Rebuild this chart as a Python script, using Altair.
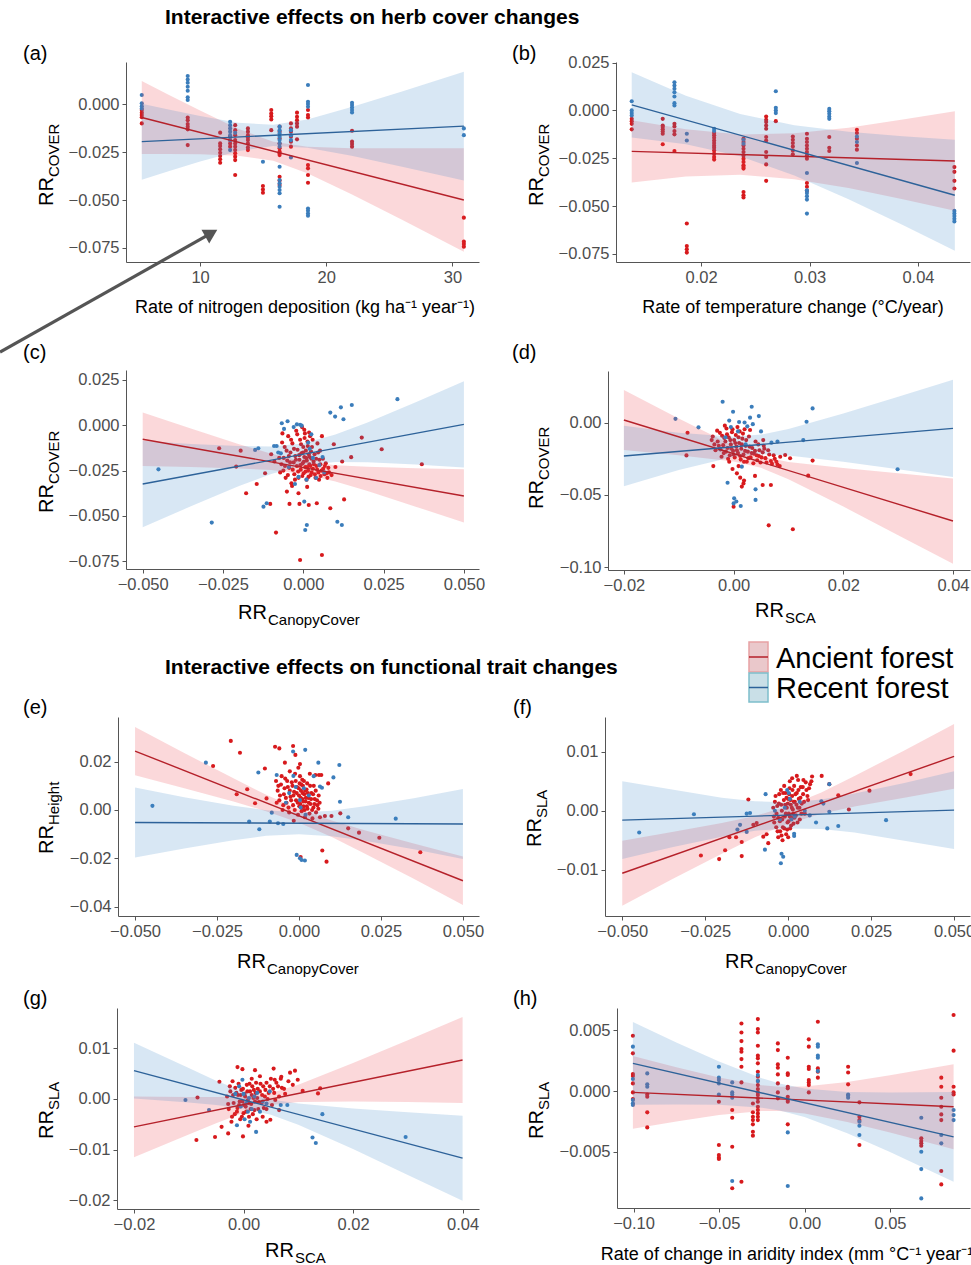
import altair as alt
import pandas as pd

# ---------------------------------------------------------------- canvas
W, H = 971, 1265
FONT = "Liberation Sans"

ANCIENT, RECENT = "Ancient forest", "Recent forest"
GROUPS = [ANCIENT, RECENT]
PT_COLOR = {ANCIENT: "#D7191C", RECENT: "#3B7DBB"}
LINE_COLOR = {ANCIENT: "#B5212A", RECENT: "#2D6299"}
BAND_COLOR = {ANCIENT: "#EC3A44", RECENT: "#3E85C6"}

# ---------------------------------------------------------------- (a) nitrogen deposition
A_RED_COLS = [
    (5.38, [-0.0031, -0.0045, -0.0057, -0.0069, -0.0101]),
    (9.02, [-0.0070, -0.0084, -0.0104, -0.0118, -0.0132, -0.0214]),
    (11.59, [-0.0149, -0.0205, -0.0219, -0.0236, -0.0254, -0.0271, -0.0288, -0.0306]),
    (12.38, [-0.0170, -0.0188, -0.0205, -0.0222]),
    (12.78, [-0.0110, -0.0136, -0.0162, -0.0188, -0.0205, -0.0222, -0.0240, -0.0257, -0.0274, -0.0292, -0.0370]),
    (13.79, [-0.0127, -0.0144, -0.0162, -0.0174, -0.0188, -0.0205, -0.0226, -0.0240]),
    (14.98, [-0.0427, -0.0445, -0.0462]),
    (15.64, [-0.0031, -0.0049, -0.0063, -0.0080, -0.0136]),
    (16.30, [-0.0118, -0.0144, -0.0179, -0.0205, -0.0231, -0.0248, -0.0257, -0.0266, -0.0379, -0.0399, -0.0422]),
    (17.20, [-0.0101, -0.0127, -0.0144, -0.0170, -0.0196, -0.0222]),
    (17.68, [-0.0045, -0.0066, -0.0084, -0.0101, -0.0118, -0.0184]),
    (18.55, [-0.0031, -0.0057, -0.0070, -0.0318, -0.0335, -0.0370, -0.0410]),
    (22.04, [-0.0139, -0.0196, -0.0208, -0.0222]),
    (30.90, [-0.0592, -0.0717, -0.0729, -0.0743]),
]
A_BLUE_COLS = [
    (5.38, [0.0047, 0.0004, -0.0011, -0.0023]),
    (9.02, [0.0146, 0.0128, 0.0111, 0.0090, 0.0069, 0.0035, 0.0021]),
    (12.38, [-0.0092, -0.0110, -0.0127, -0.0144, -0.0162, -0.0188, -0.0240]),
    (12.78, [-0.0150]),
    (14.98, [-0.0301]),
    (16.30, [-0.0118, -0.0136, -0.0153, -0.0170, -0.0188, -0.0205, -0.0222, -0.0327,
             -0.0396, -0.0413, -0.0431, -0.0448, -0.0465, -0.0535]),
    (17.20, [-0.0136, -0.0162, -0.0188, -0.0278]),
    (18.55, [0.0099, 0.0012, 0.0000, -0.0014, -0.0544, -0.0556, -0.0570, -0.0582]),
    (22.04, [0.0007, -0.0005, -0.0018, -0.0031, -0.0044]),
    (30.90, [-0.0127, -0.0162]),
]
A_BAND_X = [5.38, 7.5, 10, 13, 15.8, 18.5, 22, 26, 30.9]
A_RED_LO = [-0.0260, -0.0260, -0.0262, -0.0269, -0.0296, -0.0360, -0.0470, -0.0603, -0.0770]
A_RED_HI = [0.0120, 0.0048, -0.0034, -0.0129, -0.0196, -0.0222, -0.0230, -0.0231, -0.0230]
A_BLUE_LO = [-0.0394, -0.0350, -0.0300, -0.0246, -0.0218, -0.0228, -0.0270, -0.0327, -0.0398]
A_BLUE_HI = [0.0002, -0.0028, -0.0062, -0.0098, -0.0108, -0.0080, -0.0016, 0.0065, 0.0168]
A_LINE_X = [5.38, 30.9]
A_RED_LINE = [-0.0070, -0.0500]
A_BLUE_LINE = [-0.0196, -0.0115]

# ---------------------------------------------------------------- (b) temperature change
B_RED_COLS = [
    (0.0136, [-0.0044, -0.0056, -0.0070, -0.0099]),
    (0.01646, [-0.0044, -0.0079, -0.0087, -0.0099, -0.0110, -0.0122, -0.0177]),
    (0.01754, [-0.0070, -0.0084, -0.0108, -0.0125, -0.0212]),
    (0.01868, [-0.0591, -0.0709, -0.0726, -0.0743]),
    (0.0212, [-0.0118, -0.0130, -0.0143, -0.0157, -0.0170, -0.0184, -0.0195, -0.0209, -0.0226, -0.0243, -0.0257]),
    (0.02391, [-0.0148, -0.0165, -0.0183, -0.0200, -0.0217, -0.0235, -0.0252, -0.0269, -0.0287,
               -0.0295, -0.0304, -0.0426, -0.0443, -0.0455]),
    (0.0260, [-0.0032, -0.0049, -0.0061, -0.0079, -0.0096, -0.0139, -0.0157, -0.0217, -0.0243, -0.0282, -0.0368]),
    (0.02689, [-0.0056]),
    (0.02846, [-0.0136, -0.0153, -0.0170, -0.0188, -0.0209, -0.0229]),
    (0.02976, [-0.0122, -0.0148, -0.0165, -0.0183, -0.0200, -0.0217, -0.0235, -0.0252, -0.0379, -0.0399, -0.0420]),
    (0.03182, [-0.0139, -0.0195, -0.0212]),
    (0.03437, [-0.0101, -0.0118, -0.0148, -0.0183, -0.0205]),
    (0.04336, [-0.0296, -0.0321, -0.0368, -0.0408]),
]
B_BLUE_COLS = [
    (0.0136, [0.0048, 0.0000, -0.0014, -0.0026]),
    (0.01754, [0.0147, 0.0130, 0.0113, 0.0095, 0.0073, 0.0038, 0.0026]),
    (0.01868, [-0.0122, -0.0157]),
    (0.0212, [-0.0096, -0.0108]),
    (0.02391, [-0.0153, -0.0174]),
    (0.02689, [0.0100, 0.0014, 0.0000, -0.0014]),
    (0.02976, [-0.0327, -0.0417, -0.0431, -0.0448, -0.0466, -0.0539]),
    (0.03182, [0.0008, -0.0004, -0.0018, -0.0032, -0.0044]),
    (0.03437, [-0.0136, -0.0165, -0.0275]),
    (0.04336, [-0.0525, -0.0539, -0.0552, -0.0566, -0.0580]),
]
B_BAND_X = [0.0136, 0.0186, 0.0236, 0.0286, 0.0336, 0.0386, 0.0434]
B_RED_LO = [-0.0377, -0.0345, -0.0336, -0.0359, -0.0406, -0.0464, -0.0524]
B_RED_HI = [-0.0051, -0.0099, -0.0126, -0.0119, -0.0090, -0.0048, -0.0004]
B_BLUE_LO = [-0.0141, -0.0177, -0.0239, -0.0340, -0.0464, -0.0599, -0.0733]
B_BLUE_HI = [0.0199, 0.0077, -0.0019, -0.0078, -0.0112, -0.0135, -0.0153]
B_LINE_X = [0.0136, 0.0434]
B_RED_LINE = [-0.0214, -0.0264]
B_BLUE_LINE = [0.0029, -0.0443]

# ---------------------------------------------------------------- (c) canopy cover vs cover
C_RED_PTS = [
    (-0.0262, -0.0127), (-0.0195, -0.0140), (-0.0209, -0.0228), (-0.0178, -0.0375), (-0.0145, -0.0324),
    (-0.0119, -0.0265), (-0.0103, -0.0434), (-0.0085, -0.0592), (-0.0010, -0.0743), (0.0058, -0.0716),
    (-0.0043, -0.0434), (-0.0012, -0.0434), (0.0017, -0.0440), (0.0042, -0.0430), (0.0084, -0.0458),
    (0.0127, -0.0409), (0.0182, -0.0068), (0.0149, -0.0176), (0.0121, -0.0200), (0.0244, -0.0132),
    (0.0369, -0.0215), (-0.0051, -0.0366), (-0.0015, -0.0375),
    (-0.0075, -0.0180), (-0.0068, -0.0215), (-0.0062, -0.0250), (-0.0058, -0.0120), (-0.0055, -0.0290),
    (-0.0050, -0.0195), (-0.0047, -0.0060), (-0.0044, -0.0235), (-0.0040, -0.0150), (-0.0037, -0.0320),
    (-0.0034, -0.0100), (-0.0030, -0.0205), (-0.0028, -0.0270), (-0.0025, -0.0170), (-0.0022, -0.0030),
    (-0.0020, -0.0225), (-0.0018, -0.0135), (-0.0015, -0.0290), (-0.0012, -0.0190), (-0.0010, -0.0080),
    (-0.0008, -0.0245), (-0.0006, -0.0155), (-0.0004, -0.0010), (-0.0002, -0.0210), (0.0000, -0.0120),
    (0.0001, -0.0265), (0.0003, -0.0175), (0.0005, -0.0045), (0.0006, -0.0230), (0.0008, -0.0140),
    (0.0010, -0.0300), (0.0011, -0.0195), (0.0013, -0.0090), (0.0015, -0.0250), (0.0017, -0.0160),
    (0.0019, -0.0215), (0.0021, -0.0060), (0.0023, -0.0275), (0.0025, -0.0185), (0.0027, -0.0120),
    (0.0030, -0.0240), (0.0032, -0.0200), (0.0035, -0.0160), (0.0038, -0.0290), (0.0041, -0.0225),
    (0.0044, -0.0100), (0.0047, -0.0260), (0.0050, -0.0190), (0.0054, -0.0280), (0.0058, -0.0060),
    (0.0062, -0.0240), (0.0066, -0.0270), (0.0070, -0.0210), (0.0075, -0.0290), (0.0080, -0.0260),
    (0.0088, -0.0275), (0.0095, -0.0105), (0.0100, -0.0230), (-0.0090, -0.0200), (-0.0100, -0.0160),
    (-0.0035, -0.0335), (0.0012, -0.0340), (-0.0065, -0.0045), (0.0003, -0.0025), (0.0052, -0.0140),
    (-0.0072, -0.0260), (-0.0066, -0.0095), (-0.0061, -0.0180), (-0.0057, -0.0225), (-0.0052, -0.0140),
    (-0.0048, -0.0275), (-0.0045, -0.0170), (-0.0041, -0.0205), (-0.0038, -0.0080), (-0.0033, -0.0245),
    (-0.0029, -0.0130), (-0.0026, -0.0300), (-0.0023, -0.0190), (-0.0019, -0.0050), (-0.0016, -0.0255),
    (-0.0013, -0.0165), (-0.0009, -0.0220), (-0.0007, -0.0105), (-0.0003, -0.0280), (-0.0001, -0.0150),
    (0.0002, -0.0200), (0.0004, -0.0070), (0.0007, -0.0255), (0.0009, -0.0180), (0.0012, -0.0230),
    (0.0014, -0.0115), (0.0016, -0.0285), (0.0018, -0.0040), (0.0020, -0.0175), (0.0022, -0.0225),
    (0.0024, -0.0145), (0.0026, -0.0260), (0.0029, -0.0080), (0.0033, -0.0215), (0.0036, -0.0270),
    (0.0040, -0.0185), (0.0043, -0.0245), (0.0046, -0.0150), (0.0049, -0.0300), (0.0053, -0.0215),
    (0.0057, -0.0250), (0.0061, -0.0185), (0.0067, -0.0225), (0.0072, -0.0265), (0.0078, -0.0235),
]
C_BLUE_PTS = [
    (-0.0451, -0.0243), (-0.0285, -0.0537), (0.0293, 0.0144), (0.0084, 0.0070), (0.0117, 0.0099),
    (0.0099, 0.0048), (0.0125, 0.0033), (0.0151, 0.0112), (0.0106, -0.0532), (0.0120, -0.0550),
    (-0.0124, -0.0449), (-0.0114, -0.0430), (0.0006, -0.0578), (0.0011, -0.0550), (0.0003, -0.0421),
    (-0.0140, -0.0127), (-0.0150, -0.0136), (-0.0091, -0.0114), (-0.0083, -0.0114), (-0.0067, 0.0011),
    (-0.0049, 0.0022), (-0.0020, 0.0005), (-0.0010, 0.0003), (-0.0005, -0.0002), (-0.0026, -0.0324),
    (0.0010, -0.0300), (0.0040, -0.0290), (0.0060, -0.0175), (-0.0070, -0.0155), (0.0020, -0.0130),
    (-0.0078, -0.0150), (-0.0060, -0.0020), (-0.0045, -0.0230), (-0.0030, -0.0010), (0.0015, -0.0095),
    (0.0030, -0.0180), (0.0050, -0.0220), (0.0065, -0.0260), (-0.0015, -0.0285), (0.0025, -0.0050),
]
C_BAND_X = [-0.05, -0.035, -0.02, -0.01, 0.0, 0.01, 0.02, 0.035, 0.05]
C_RED_LO = [-0.0224, -0.0230, -0.0238, -0.0247, -0.0269, -0.0310, -0.0363, -0.0449, -0.0537]
C_RED_HI = [0.0070, -0.0018, -0.0104, -0.0157, -0.0199, -0.0220, -0.0229, -0.0237, -0.0243]
C_BLUE_LO = [-0.0562, -0.0447, -0.0335, -0.0269, -0.0220, -0.0203, -0.0204, -0.0217, -0.0233]
C_BLUE_HI = [-0.0086, -0.0103, -0.0115, -0.0117, -0.0100, -0.0051, 0.0016, 0.0127, 0.0243]
C_LINE_X = [-0.05, 0.05]
C_RED_LINE = [-0.0077, -0.0390]
C_BLUE_LINE = [-0.0324, 0.0005]

# ---------------------------------------------------------------- (d) SCA vs cover
D_RED_PTS = [
    (-0.0084, -0.0069), (-0.0086, -0.0226), (-0.0037, -0.0300), (0.0064, -0.0710), (0.0108, -0.0737),
    (0.0144, -0.0262), (0.0136, -0.0366), (0.0068, -0.0431), (0.0053, -0.0431), (0.0039, -0.0368),
    (0.0000, -0.0581), (0.0015, -0.0442), (0.0018, -0.0420), (0.0103, -0.0246), (0.0094, -0.0223),
    (0.0085, -0.0235), (0.0054, -0.0120), (0.0056, -0.0180), (0.0046, -0.0230),
    (-0.0040, -0.0120), (-0.0035, -0.0150), (-0.0030, -0.0055), (-0.0027, -0.0160), (-0.0024, -0.0185),
    (-0.0021, -0.0090), (-0.0018, -0.0210), (-0.0015, -0.0130), (-0.0013, -0.0040), (-0.0011, -0.0175),
    (-0.0009, -0.0100), (-0.0007, -0.0225), (-0.0005, -0.0150), (-0.0003, -0.0065), (-0.0001, -0.0195),
    (0.0001, -0.0120), (0.0002, -0.0240), (0.0004, -0.0085), (0.0005, -0.0165), (0.0007, -0.0030),
    (0.0008, -0.0210), (0.0010, -0.0140), (0.0011, -0.0060), (0.0013, -0.0255), (0.0014, -0.0180),
    (0.0016, -0.0110), (0.0018, -0.0220), (0.0020, -0.0045), (0.0022, -0.0160), (0.0024, -0.0270),
    (0.0026, -0.0200), (0.0028, -0.0095), (0.0031, -0.0240), (0.0034, -0.0175), (0.0037, -0.0215),
    (0.0040, -0.0130), (0.0043, -0.0260), (0.0047, -0.0190), (0.0051, -0.0240), (0.0055, -0.0160),
    (0.0060, -0.0275), (0.0065, -0.0220), (0.0070, -0.0285), (0.0075, -0.0250), (0.0080, -0.0290),
    (-0.0008, -0.0270), (0.0009, -0.0300), (0.0006, -0.0350), (0.0012, -0.0380), (-0.0002, -0.0320),
    (0.0019, -0.0400), (0.0030, -0.0050), (-0.0016, -0.0020),
    (-0.0038, -0.0095), (-0.0033, -0.0190), (-0.0029, -0.0130), (-0.0025, -0.0070), (-0.0022, -0.0235),
    (-0.0019, -0.0155), (-0.0017, -0.0105), (-0.0014, -0.0200), (-0.0012, -0.0080), (-0.0010, -0.0250),
    (-0.0006, -0.0120), (-0.0004, -0.0180), (-0.0002, -0.0045), (0.0000, -0.0220), (0.0003, -0.0140),
    (0.0006, -0.0190), (0.0009, -0.0100), (0.0012, -0.0230), (0.0015, -0.0150), (0.0017, -0.0075),
    (0.0019, -0.0270), (0.0021, -0.0195), (0.0023, -0.0120), (0.0027, -0.0245), (0.0029, -0.0165),
    (0.0033, -0.0210), (0.0036, -0.0280), (0.0039, -0.0195), (0.0042, -0.0225), (0.0045, -0.0150),
    (0.0049, -0.0275), (0.0053, -0.0205), (0.0058, -0.0245), (0.0063, -0.0190), (0.0068, -0.0265),
    (0.0073, -0.0225), (0.0078, -0.0270), (0.0084, -0.0300),
]
D_BLUE_PTS = [
    (-0.0106, 0.0027), (-0.0064, -0.0032), (-0.0020, 0.0145), (-0.0001, 0.0076), (0.0033, 0.0111),
    (0.0046, 0.0046), (0.0133, 0.0007), (0.0144, 0.0099), (0.0299, -0.0322), (0.0127, -0.0120),
    (-0.0011, -0.0415), (0.0040, -0.0461), (0.0040, -0.0534), (0.0000, -0.0558), (0.0005, -0.0545),
    (0.0013, -0.0576), (0.0001, -0.0523), (0.0015, -0.0304), (0.0069, -0.0138), (0.0080, -0.0130),
    (0.0010, 0.0005), (0.0020, 0.0002), (-0.0005, -0.0030), (0.0025, -0.0025), (0.0035, -0.0010),
    (-0.0015, -0.0100), (-0.0025, -0.0180), (0.0008, -0.0060), (0.0022, -0.0150), (0.0050, -0.0060),
    (-0.0008, 0.0015), (0.0030, 0.0035),
]
D_BAND_X = [-0.02, -0.01, 0.0, 0.005, 0.01, 0.02, 0.03, 0.04]
D_RED_LO = [-0.0188, -0.0225, -0.0269, -0.0312, -0.0391, -0.0580, -0.0778, -0.0975]
D_RED_HI = [0.0226, 0.0029, -0.0159, -0.0232, -0.0271, -0.0314, -0.0350, -0.0385]
D_BLUE_LO = [-0.0440, -0.0327, -0.0235, -0.0218, -0.0227, -0.0270, -0.0322, -0.0376]
D_BLUE_HI = [-0.0020, -0.0069, -0.0097, -0.0082, -0.0043, 0.0064, 0.0180, 0.0298]
D_LINE_X = [-0.02, 0.04]
D_RED_LINE = [0.0019, -0.0680]
D_BLUE_LINE = [-0.0230, -0.0039]

# ---------------------------------------------------------------- (e) canopy cover vs height
E_RED_PTS = [
    (-0.0208, 0.0286), (-0.0180, 0.0237), (-0.0262, 0.0182), (-0.0190, 0.0065), (-0.0158, 0.0086),
    (-0.0134, 0.0028), (-0.0099, 0.0048), (-0.0104, 0.0172), (-0.0073, 0.0262), (-0.0060, 0.0255),
    (-0.0018, 0.0265), (-0.0011, 0.0228), (-0.0043, 0.0196), (0.0061, 0.0145), (0.0050, 0.0145),
    (0.0068, 0.0145), (0.0089, 0.0110), (0.0079, -0.0025), (0.0099, -0.0025), (0.0126, -0.0014),
    (0.0150, -0.0076), (0.0183, -0.0094), (0.0245, -0.0115), (0.0370, -0.0175), (0.0071, -0.0168),
    (0.0084, -0.0214), (0.0005, -0.0195),
    (-0.0070, 0.0120), (-0.0065, 0.0080), (-0.0060, 0.0040), (-0.0055, 0.0105), (-0.0050, 0.0000),
    (-0.0046, 0.0065), (-0.0042, 0.0130), (-0.0038, 0.0030), (-0.0034, 0.0095), (-0.0030, -0.0010),
    (-0.0026, 0.0055), (-0.0022, 0.0115), (-0.0018, 0.0020), (-0.0015, 0.0075), (-0.0012, 0.0150),
    (-0.0009, 0.0040), (-0.0006, 0.0095), (-0.0003, -0.0020), (0.0000, 0.0060), (0.0002, 0.0110),
    (0.0004, 0.0025), (0.0006, 0.0080), (0.0008, -0.0005), (0.0010, 0.0045), (0.0012, 0.0100),
    (0.0014, 0.0015), (0.0016, 0.0065), (0.0018, -0.0030), (0.0020, 0.0035), (0.0023, 0.0085),
    (0.0026, 0.0005), (0.0029, 0.0050), (0.0032, -0.0015), (0.0035, 0.0025), (0.0038, 0.0070),
    (0.0041, -0.0035), (0.0044, 0.0010), (0.0048, 0.0045), (0.0052, -0.0010), (0.0056, 0.0020),
    (0.0060, 0.0060), (0.0064, -0.0030), (0.0010, 0.0125), (-0.0002, 0.0175), (0.0003, 0.0190),
    (0.0025, 0.0110), (-0.0028, 0.0160), (0.0045, 0.0100), (0.0033, 0.0150), (-0.0016, -0.0045),
    (-0.0068, 0.0030), (-0.0063, 0.0100), (-0.0058, 0.0060), (-0.0053, 0.0140), (-0.0048, 0.0020),
    (-0.0044, 0.0090), (-0.0040, 0.0050), (-0.0036, 0.0120), (-0.0032, 0.0010), (-0.0028, 0.0080),
    (-0.0024, 0.0040), (-0.0020, 0.0100), (-0.0017, 0.0060), (-0.0013, 0.0000), (-0.0010, 0.0120),
    (-0.0007, 0.0070), (-0.0004, 0.0030), (-0.0001, 0.0090), (0.0001, 0.0015), (0.0003, 0.0140),
    (0.0005, 0.0050), (0.0007, 0.0105), (0.0009, 0.0010), (0.0011, 0.0070), (0.0013, 0.0035),
    (0.0015, 0.0120), (0.0017, 0.0000), (0.0019, 0.0080), (0.0021, 0.0050), (0.0024, 0.0015),
    (0.0027, 0.0070), (0.0030, 0.0030), (0.0034, 0.0100), (0.0037, 0.0045), (0.0040, 0.0000),
    (0.0043, 0.0065), (0.0047, 0.0025), (0.0051, 0.0080), (0.0055, 0.0040), (0.0059, 0.0005),
    (0.0063, 0.0030),
]
E_BLUE_PTS = [
    (-0.0447, 0.0017), (-0.0284, 0.0196), (-0.0152, -0.0048), (-0.0121, -0.0080), (-0.0089, -0.0048),
    (-0.0064, -0.0055), (-0.0048, -0.0058), (-0.0124, 0.0155), (-0.0068, 0.0145), (-0.0018, 0.0242),
    (0.0019, 0.0249), (0.0059, 0.0196), (0.0123, 0.0186), (0.0105, 0.0135), (0.0064, 0.0097),
    (0.0070, 0.0092), (0.0125, 0.0034), (0.0150, -0.0030), (0.0295, -0.0036), (-0.0007, -0.0186),
    (0.0008, -0.0207), (0.0018, -0.0209), (0.0003, -0.0200), (-0.0083, -0.0011), (-0.0017, 0.0141),
    (0.0003, 0.0041), (-0.0030, 0.0070), (0.0015, 0.0090), (-0.0040, 0.0030), (0.0005, 0.0010),
    (0.0030, 0.0060), (-0.0010, 0.0095), (0.0045, 0.0140), (0.0020, -0.0020),
]
E_BAND_X = [-0.05, -0.035, -0.02, -0.01, 0.0, 0.01, 0.02, 0.035, 0.05]
E_RED_LO = [0.0144, 0.0090, 0.0035, -0.0005, -0.0053, -0.0112, -0.0180, -0.0285, -0.0393]
E_RED_HI = [0.0344, 0.0236, 0.0131, 0.0063, 0.0003, -0.0044, -0.0084, -0.0139, -0.0193]
E_BLUE_LO = [-0.0197, -0.0159, -0.0125, -0.0107, -0.0100, -0.0109, -0.0127, -0.0163, -0.0203]
E_BLUE_HI = [0.0093, 0.0053, 0.0017, -0.0001, -0.0010, -0.0003, 0.0015, 0.0049, 0.0087]
E_LINE_X = [-0.05, 0.05]
E_RED_LINE = [0.0244, -0.0293]
E_BLUE_LINE = [-0.0052, -0.0058]

# ---------------------------------------------------------------- (f) canopy cover vs SLA
F_RED_PTS = [
    (0.0369, 0.0062), (0.0245, 0.0034), (0.0183, 0.0002), (0.0151, 0.0026), (0.0124, 0.0045),
    (0.0101, 0.0059), (0.0072, 0.0058), (0.0026, 0.0059), (0.0046, 0.0052), (-0.0263, -0.0076),
    (-0.0208, -0.0082), (-0.0190, -0.0067), (-0.0177, -0.0045), (-0.0157, -0.0045), (-0.0140, -0.0077),
    (-0.0140, -0.0053), (-0.0105, -0.0024), (-0.0095, -0.0021), (-0.0075, -0.0044), (-0.0065, -0.0040),
    (-0.0060, -0.0055), (-0.0120, 0.0019), (-0.0017, -0.0050), (-0.0020, -0.0042),
    (-0.0045, 0.0005), (-0.0042, -0.0020), (-0.0038, 0.0025), (-0.0035, -0.0005), (-0.0032, -0.0035),
    (-0.0028, 0.0012), (-0.0025, -0.0018), (-0.0022, 0.0035), (-0.0019, 0.0000), (-0.0016, -0.0028),
    (-0.0013, 0.0018), (-0.0010, -0.0010), (-0.0008, 0.0030), (-0.0006, -0.0040), (-0.0004, 0.0005),
    (-0.0002, -0.0020), (0.0000, 0.0020), (0.0002, -0.0005), (0.0004, 0.0038), (0.0006, -0.0030),
    (0.0008, 0.0010), (0.0010, -0.0012), (0.0012, 0.0025), (0.0014, 0.0002), (0.0016, -0.0022),
    (0.0018, 0.0042), (0.0020, 0.0015), (0.0023, -0.0008), (0.0026, 0.0030), (0.0029, 0.0005),
    (0.0032, 0.0020), (0.0035, -0.0015), (0.0038, 0.0040), (0.0041, 0.0012), (0.0045, 0.0028),
    (0.0050, -0.0005), (0.0055, 0.0035), (0.0060, 0.0018), (0.0066, 0.0045), (0.0005, 0.0050),
    (0.0012, 0.0055), (-0.0012, 0.0042), (0.0030, 0.0052), (-0.0030, -0.0045), (0.0000, -0.0045),
    (-0.0043, -0.0010), (-0.0040, 0.0015), (-0.0036, -0.0028), (-0.0033, 0.0008), (-0.0030, -0.0012),
    (-0.0027, 0.0028), (-0.0024, -0.0035), (-0.0021, 0.0010), (-0.0018, -0.0015), (-0.0015, 0.0030),
    (-0.0012, -0.0030), (-0.0009, 0.0010), (-0.0007, -0.0005), (-0.0005, 0.0022), (-0.0003, -0.0032),
    (-0.0001, 0.0012), (0.0001, -0.0018), (0.0003, 0.0028), (0.0005, -0.0010), (0.0007, 0.0018),
    (0.0009, -0.0025), (0.0011, 0.0005), (0.0013, 0.0035), (0.0015, -0.0005), (0.0017, 0.0015),
    (0.0019, -0.0012), (0.0022, 0.0028), (0.0025, 0.0010), (0.0028, -0.0020), (0.0031, 0.0035),
    (0.0034, 0.0005), (0.0037, 0.0022), (0.0040, -0.0005), (0.0044, 0.0040), (0.0048, 0.0015),
    (0.0053, 0.0048), (0.0058, 0.0025), (0.0063, 0.0038), (0.0070, 0.0050),
]
F_BLUE_PTS = [
    (-0.0449, -0.0037), (-0.0284, -0.0006), (-0.0125, -0.0005), (-0.0115, -0.0004), (-0.0145, -0.0024),
    (-0.0153, -0.0032), (-0.0125, -0.0036), (-0.0068, 0.0028), (-0.0070, -0.0066), (-0.0020, -0.0073),
    (-0.0015, -0.0078), (-0.0022, -0.0089), (0.0018, -0.0039), (0.0018, -0.0043), (0.0084, -0.0020),
    (0.0118, -0.0030), (0.0151, -0.0026), (0.0295, -0.0016), (0.0106, 0.0012), (0.0100, 0.0016),
    (0.0124, -0.0002), (0.0124, 0.0045), (0.0065, -0.0008), (-0.0003, 0.0035), (0.0002, 0.0030),
    (-0.0040, 0.0000), (0.0010, -0.0015), (-0.0010, 0.0005), (0.0005, 0.0020), (0.0020, -0.0010),
    (0.0035, 0.0015), (-0.0025, -0.0015), (0.0050, 0.0000),
]
F_BAND_X = [-0.05, -0.035, -0.02, -0.01, 0.0, 0.01, 0.02, 0.035, 0.05]
F_RED_LO = [-0.0161, -0.0116, -0.0073, -0.0045, -0.0022, -0.0005, 0.0007, 0.0022, 0.0037]
F_RED_HI = [-0.0051, -0.0036, -0.0021, -0.0009, 0.0008, 0.0031, 0.0059, 0.0102, 0.0147]
F_BLUE_LO = [-0.0082, -0.0062, -0.0044, -0.0034, -0.0030, -0.0031, -0.0037, -0.0051, -0.0065]
F_BLUE_HI = [0.0050, 0.0036, 0.0022, 0.0016, 0.0014, 0.0019, 0.0029, 0.0047, 0.0067]
F_LINE_X = [-0.05, 0.05]
F_RED_LINE = [-0.0106, 0.0092]
F_BLUE_LINE = [-0.0016, 0.0001]

# ---------------------------------------------------------------- (g) SCA vs SLA
G_RED_PTS = [
    (-0.0084, 0.0003), (-0.0086, -0.0081), (-0.0052, -0.0075), (-0.0044, 0.0034), (-0.0011, 0.0063),
    (-0.0002, 0.0059), (0.0021, 0.0057), (0.0055, 0.0060), (0.0085, 0.0052), (0.0094, 0.0056),
    (0.0099, 0.0038), (0.0108, 0.0016), (0.0140, 0.0021), (0.0136, 0.0011), (-0.0028, -0.0068),
    (-0.0001, -0.0074), (-0.0040, -0.0055), (0.0009, -0.0053), (0.0042, -0.0045), (0.0049, -0.0041),
    (0.0065, -0.0022), (0.0042, 0.0032), (0.0057, 0.0038), (0.0069, 0.0044),
    (-0.0030, 0.0005), (-0.0027, -0.0020), (-0.0024, 0.0015), (-0.0021, -0.0035), (-0.0018, -0.0008),
    (-0.0015, 0.0022), (-0.0012, -0.0025), (-0.0010, 0.0008), (-0.0008, -0.0012), (-0.0006, -0.0040),
    (-0.0004, 0.0018), (-0.0002, -0.0005), (0.0000, -0.0028), (0.0002, 0.0010), (0.0004, -0.0015),
    (0.0006, 0.0028), (0.0008, -0.0002), (0.0010, -0.0035), (0.0012, 0.0015), (0.0014, -0.0010),
    (0.0016, 0.0025), (0.0018, 0.0002), (0.0020, -0.0022), (0.0022, 0.0012), (0.0024, -0.0040),
    (0.0026, 0.0020), (0.0028, -0.0006), (0.0031, 0.0030), (0.0034, 0.0008), (0.0037, -0.0018),
    (0.0040, 0.0018), (0.0044, 0.0000), (0.0048, 0.0025), (0.0052, -0.0012), (0.0056, 0.0012),
    (0.0060, 0.0032), (0.0065, 0.0005), (0.0070, 0.0022), (0.0076, 0.0010), (0.0082, 0.0035),
    (0.0090, 0.0028), (0.0030, 0.0045), (0.0015, 0.0040), (-0.0020, 0.0035), (0.0035, -0.0035),
    (-0.0028, -0.0010), (-0.0025, 0.0025), (-0.0022, -0.0045), (-0.0019, 0.0008), (-0.0016, -0.0030),
    (-0.0013, 0.0012), (-0.0011, -0.0018), (-0.0009, 0.0030), (-0.0007, -0.0005), (-0.0005, 0.0008),
    (-0.0003, -0.0035), (-0.0001, 0.0020), (0.0001, -0.0012), (0.0003, 0.0005), (0.0005, -0.0025),
    (0.0007, 0.0015), (0.0009, -0.0008), (0.0011, 0.0030), (0.0013, -0.0020), (0.0015, 0.0008),
    (0.0017, -0.0030), (0.0019, 0.0018), (0.0021, -0.0005), (0.0023, 0.0032), (0.0025, 0.0002),
    (0.0027, -0.0020), (0.0030, 0.0015), (0.0033, -0.0008), (0.0036, 0.0025), (0.0039, 0.0005),
    (0.0042, -0.0020), (0.0046, 0.0012), (0.0050, 0.0040), (0.0054, 0.0020), (0.0058, -0.0002),
    (0.0063, 0.0025), (0.0068, 0.0040), (0.0074, 0.0020),
]
G_BLUE_PTS = [
    (-0.0106, -0.0002), (-0.0063, -0.0022), (0.0296, -0.0075), (0.0126, -0.0076), (0.0132, -0.0087),
    (0.0144, -0.0030), (0.0080, -0.0012), (0.0068, -0.0012), (0.0048, 0.0015), (0.0023, -0.0065),
    (-0.0012, -0.0052), (0.0042, -0.0009), (-0.0002, 0.0038), (0.0000, 0.0010), (0.0005, -0.0008),
    (0.0010, 0.0002), (0.0015, -0.0020), (0.0020, 0.0005), (-0.0005, -0.0015), (0.0030, -0.0025),
    (0.0002, -0.0040), (-0.0015, 0.0010), (0.0008, -0.0025), (0.0025, 0.0012), (0.0035, -0.0005),
    (-0.0008, 0.0025), (0.0012, -0.0045),
]
G_BAND_X = [-0.02, -0.01, -0.005, 0.0, 0.005, 0.01, 0.02, 0.03, 0.04]
G_RED_LO = [-0.0115, -0.0070, -0.0048, -0.0027, -0.0012, -0.0006, -0.0005, -0.0006, -0.0008]
G_RED_HI = [0.0005, 0.0004, 0.0004, 0.0005, 0.0012, 0.0028, 0.0071, 0.0116, 0.0162]
G_BLUE_LO = [0.0001, -0.0007, -0.0012, -0.0019, -0.0031, -0.0051, -0.0099, -0.0150, -0.0201]
G_BLUE_HI = [0.0111, 0.0061, 0.0036, 0.0015, -0.0001, -0.0009, -0.0019, -0.0026, -0.0033]
G_LINE_X = [-0.02, 0.04]
G_RED_LINE = [-0.0055, 0.0077]
G_BLUE_LINE = [0.0056, -0.0117]

# ---------------------------------------------------------------- (h) aridity vs SLA
H_RED_COLS = [
    (-0.1004, [0.00455, 0.00310, 0.00140, 0.00123, 0.00063, -0.00011, -0.00066]),
    (-0.0920, [-0.00028, -0.00047, -0.00175, -0.00299]),
    (-0.0501, [-0.00088, -0.00444, -0.00526, -0.00548, -0.00559]),
    (-0.0423, [-0.00156, -0.00220, -0.00458, -0.00800]),
    (-0.0369, [0.00556, 0.00482, 0.00411, 0.00345, 0.00323, 0.00263, 0.00200, 0.00071, -0.00746]),
    (-0.0302, [-0.00102, -0.00175, -0.00211, -0.00239, -0.00274, -0.00335, -0.00367]),
    (-0.0273, [0.00592, 0.00510, 0.00482, 0.00373, 0.00291, 0.00269, 0.00228, 0.00159, 0.00118, 0.00082,
               0.00049, 0.00016, -0.00011, -0.00033, -0.00060, -0.00088, -0.00129, -0.00156, -0.00184,
               -0.00211, -0.00239]),
    (-0.0156, [0.00392, 0.00337, 0.00219, 0.00192, 0.00137, 0.00063, -0.00011, -0.00060]),
    (-0.0098, [0.00274, 0.00145, 0.00132, 0.00035, 0.00022, -0.00047, -0.00074, -0.00088, -0.00274]),
    (0.0025, [0.00425, 0.00365, 0.00200, 0.00181, 0.00090, 0.00071, 0.00049, -0.00011]),
    (0.0078, [0.00570, 0.00186, 0.00159, 0.00110]),
    (0.0255, [0.00200, 0.00153, 0.00055]),
    (0.0321, [-0.00093, -0.00211, -0.00239, -0.00444]),
    (0.0683, [-0.00389, -0.00411, -0.00430, -0.00450]),
    (0.0800, [0.00110, 0.00035, -0.00055, -0.00129, -0.00192, -0.00239, -0.00658, -0.00768]),
    (0.0872, [0.00625, 0.00332, 0.00035, -0.00011, -0.00028]),
]
H_BLUE_COLS = [
    (-0.1004, [0.00365, 0.00099, -0.00074, -0.00101, -0.00115]),
    (-0.0920, [0.00145, 0.00055, 0.00035]),
    (-0.0501, [0.00200, 0.00110, 0.00090, 0.00063, -0.00028]),
    (-0.0423, [0.00071, -0.00011, -0.00028, -0.00055, -0.00740]),
    (-0.0273, [0.00132, 0.00082]),
    (-0.0098, [-0.00340, -0.00781]),
    (0.0078, [0.00384, 0.00365, 0.00291, 0.00274, 0.00164]),
    (0.0255, [-0.00028, -0.00038, -0.00055]),
    (0.0321, [-0.00252, -0.00285, -0.00362]),
    (0.0683, [-0.00220, -0.00499, -0.00642, -0.00883]),
    (0.0800, [-0.00362, -0.00430]),
    (0.0872, [-0.00156, -0.00198, -0.00239]),
]
H_BAND_X = [-0.1004, -0.075, -0.05, -0.025, -0.0146, 0.0, 0.025, 0.05, 0.0872]
H_RED_LO = [-0.00311, -0.00250, -0.00197, -0.00164, -0.00165, -0.00185, -0.00254, -0.00340, -0.00479]
H_RED_HI = [0.00289, 0.00196, 0.00111, 0.00048, 0.00035, 0.00037, 0.00074, 0.00130, 0.00221]
H_BLUE_LO = [-0.00113, -0.00110, -0.00113, -0.00137, -0.00160, -0.00213, -0.00347, -0.00502, -0.00747]
H_BLUE_HI = [0.00567, 0.00400, 0.00243, 0.00105, 0.00062, 0.00021, -0.00007, -0.00012, -0.00007]
H_LINE_X = [-0.1004, 0.0872]
H_RED_LINE = [-0.00011, -0.00129]
H_BLUE_LINE = [0.00227, -0.00377]

# ---------------------------------------------------------------- axes of every panel
PANELS = [
    dict(key="a", box=(126, 479, 62, 262), xdom=[4.13, 32.1], ydom=[-0.0823, 0.0219],
         xticks=[10, 20, 30], xfmt="d", yticks=[0.0, -0.025, -0.05, -0.075], yfmt=".3f",
         red=A_RED_COLS, blue=A_BLUE_COLS, cols=True,
         band=(A_BAND_X, A_RED_LO, A_RED_HI, A_BLUE_LO, A_BLUE_HI),
         line=(A_LINE_X, A_RED_LINE, A_BLUE_LINE)),
    dict(key="b", box=(616, 970, 62, 262), xdom=[0.01215, 0.0448], ydom=[-0.0792, 0.0253],
         xticks=[0.02, 0.03, 0.04], xfmt=".2f", yticks=[0.025, 0.0, -0.025, -0.05, -0.075], yfmt=".3f",
         red=B_RED_COLS, blue=B_BLUE_COLS, cols=True,
         band=(B_BAND_X, B_RED_LO, B_RED_HI, B_BLUE_LO, B_BLUE_HI),
         line=(B_LINE_X, B_RED_LINE, B_BLUE_LINE)),
    dict(key="c", box=(126, 479, 370, 569), xdom=[-0.0552, 0.0547], ydom=[-0.0793, 0.0305],
         xticks=[-0.05, -0.025, 0.0, 0.025, 0.05], xfmt=".3f", yticks=[0.025, 0.0, -0.025, -0.05, -0.075], yfmt=".3f",
         red=C_RED_PTS, blue=C_BLUE_PTS, cols=False,
         band=(C_BAND_X, C_RED_LO, C_RED_HI, C_BLUE_LO, C_BLUE_HI),
         line=(C_LINE_X, C_RED_LINE, C_BLUE_LINE)),
    dict(key="d", box=(608, 970, 371, 570), xdom=[-0.0229, 0.0431], ydom=[-0.1019, 0.0358],
         xticks=[-0.02, 0.0, 0.02, 0.04], xfmt=".2f", yticks=[0.0, -0.05, -0.1], yfmt=".2f",
         red=D_RED_PTS, blue=D_BLUE_PTS, cols=False,
         band=(D_BAND_X, D_RED_LO, D_RED_HI, D_BLUE_LO, D_BLUE_HI),
         line=(D_LINE_X, D_RED_LINE, D_BLUE_LINE)),
    dict(key="e", box=(118, 479, 717, 916), xdom=[-0.0552, 0.0549], ydom=[-0.0439, 0.0385],
         xticks=[-0.05, -0.025, 0.0, 0.025, 0.05], xfmt=".3f", yticks=[0.02, 0.0, -0.02, -0.04], yfmt=".2f",
         red=E_RED_PTS, blue=E_BLUE_PTS, cols=False,
         band=(E_BAND_X, E_RED_LO, E_RED_HI, E_BLUE_LO, E_BLUE_HI),
         line=(E_LINE_X, E_RED_LINE, E_BLUE_LINE)),
    dict(key="f", box=(605, 970, 717, 916), xdom=[-0.0552, 0.0548], ydom=[-0.01785, 0.01588],
         xticks=[-0.05, -0.025, 0.0, 0.025, 0.05], xfmt=".3f", yticks=[0.01, 0.0, -0.01], yfmt=".2f",
         red=F_RED_PTS, blue=F_BLUE_PTS, cols=False,
         band=(F_BAND_X, F_RED_LO, F_RED_HI, F_BLUE_LO, F_BLUE_HI),
         line=(F_LINE_X, F_RED_LINE, F_BLUE_LINE)),
    dict(key="g", box=(117, 479, 1008, 1209), xdom=[-0.0231, 0.043], ydom=[-0.02174, 0.01798],
         xticks=[-0.02, 0.0, 0.02, 0.04], xfmt=".2f", yticks=[0.01, 0.0, -0.01, -0.02], yfmt=".2f",
         red=G_RED_PTS, blue=G_BLUE_PTS, cols=False,
         band=(G_BAND_X, G_RED_LO, G_RED_HI, G_BLUE_LO, G_BLUE_HI),
         line=(G_LINE_X, G_RED_LINE, G_BLUE_LINE)),
    dict(key="h", box=(617, 970, 1008, 1208), xdom=[-0.1097, 0.0968], ydom=[-0.00962, 0.00683],
         xticks=[-0.1, -0.05, 0.0, 0.05], xfmt=".2f", yticks=[0.005, 0.0, -0.005], yfmt=".3f",
         red=H_RED_COLS, blue=H_BLUE_COLS, cols=True,
         band=(H_BAND_X, H_RED_LO, H_RED_HI, H_BLUE_LO, H_BLUE_HI),
         line=(H_LINE_X, H_RED_LINE, H_BLUE_LINE)),
]


def point_frame(p):
    rows = []
    for grp, src in ((ANCIENT, p["red"]), (RECENT, p["blue"])):
        if p["cols"]:
            rows += [{"x": x, "y": y, "grp": grp} for x, ys in src for y in ys]
        else:
            rows += [{"x": x, "y": y, "grp": grp} for x, y in src]
    return pd.DataFrame(rows)


def panel_chart(p):
    x0, x1, y0, y1 = p["box"]
    xs = alt.Scale(domain=p["xdom"], range=[x0, x1], nice=False, zero=False)
    ys = alt.Scale(domain=p["ydom"], range=[y1, y0], nice=False, zero=False)
    xax = alt.Axis(orient="bottom", offset=y1 - H, values=p["xticks"], format=p["xfmt"],
                   title=None, grid=False, labelFlush=False, labelOverlap=False)
    yax = alt.Axis(orient="left", offset=-x0, values=p["yticks"], format=p["yfmt"],
                   title=None, grid=False, labelFlush=False, labelOverlap=False)

    def X(f):
        return alt.X(f, type="quantitative", scale=xs, axis=xax)

    def Y(f):
        return alt.Y(f, type="quantitative", scale=ys, axis=yax)

    pts = point_frame(p)
    bx, rlo, rhi, blo, bhi = p["band"]
    bands = {ANCIENT: pd.DataFrame({"x": bx, "lo": rlo, "hi": rhi}),
             RECENT: pd.DataFrame({"x": bx, "lo": blo, "hi": bhi})}
    lx, rline, bline = p["line"]
    lines = {ANCIENT: pd.DataFrame({"x": lx, "y": rline}),
             RECENT: pd.DataFrame({"x": lx, "y": bline})}

    layers = []
    for grp in GROUPS:
        layers.append(
            alt.Chart(pts[pts.grp == grp]).mark_circle(size=17, opacity=1, color=PT_COLOR[grp])
            .encode(x=X("x"), y=Y("y")))
    for grp in GROUPS:
        layers.append(
            alt.Chart(bands[grp]).mark_area(color=BAND_COLOR[grp], opacity=0.2)
            .encode(x=X("x"), y=Y("lo"), y2="hi:Q"))
    for grp in GROUPS:
        layers.append(
            alt.Chart(lines[grp]).mark_line(color=LINE_COLOR[grp], strokeWidth=1.4)
            .encode(x=X("x"), y=Y("y")))
    return alt.layer(*layers)


# ---------------------------------------------------------------- annotations (pixel space)
def px(df, mark):
    return alt.Chart(df).mark_text(**mark).encode(
        x=alt.X("px:Q", scale=None, axis=None),
        y=alt.Y("py:Q", scale=None, axis=None),
        text="label:N")


SECTION_TITLES = ["Interactive effects on herb cover changes",
                  "Interactive effects on functional trait changes"]
section_df = pd.DataFrame({"px": [165, 165], "py": [24, 674], "label": SECTION_TITLES})

PANEL_TAGS = ["(a)", "(b)", "(c)", "(d)", "(e)", "(f)", "(g)", "(h)"]
tag_df = pd.DataFrame({"px": [23, 512, 23, 512, 23, 513, 23, 513],
                       "py": [60, 60, 359, 359, 714, 714, 1005, 1005],
                       "label": PANEL_TAGS})

PLAIN_XTITLES = ["Rate of nitrogen deposition (kg ha\u207b\u00b9 year\u207b\u00b9)",
                 "Rate of temperature change (\u00b0C/year)",
                 "Rate of change in aridity index (mm \u00b0C\u207b\u00b9 year\u207b\u00b9)"]
plain_x_df = pd.DataFrame({"px": [305, 793, 790], "py": [313, 313, 1260], "label": PLAIN_XTITLES})

# RR with subscript under panels c, d, e, f, g
XSUBS = ["CanopyCover", "SCA", "CanopyCover", "CanopyCover", "SCA"]
xrr_df = pd.DataFrame({"px": [267, 784, 266, 754, 294], "py": [619, 617, 968, 968, 1257],
                       "label": ["RR"] * 5})
xsub_df = pd.DataFrame({"px": [268, 785, 267, 755, 295], "py": [625, 623, 974, 974, 1263],
                        "label": XSUBS})

# RR with subscript along the y axes
YSUBS = ["COVER", "COVER", "COVER", "COVER", "Height", "SLA", "SLA", "SLA"]
Y_CENTERS = [165, 165, 472, 468, 818, 818, 1110, 1110]
Y_SHIFT = {"COVER": 12, "Height": 7, "SLA": 0}
Y_BASE = [53, 543, 53, 543, 53, 541, 53, 543]
yj = [c + Y_SHIFT[s] for c, s in zip(Y_CENTERS, YSUBS)]
yrr_df = pd.DataFrame({"px": Y_BASE, "py": yj, "label": ["RR"] * 8})
ysub_df = pd.DataFrame({"px": [b + 6 for b in Y_BASE], "py": yj, "label": YSUBS})

text_layers = [
    px(section_df, dict(font=FONT, fontSize=21, fontWeight="bold", align="left",
                        baseline="alphabetic", color="black")),
    px(tag_df, dict(font=FONT, fontSize=20, align="left", baseline="alphabetic", color="black")),
    px(plain_x_df, dict(font=FONT, fontSize=18, align="center", baseline="alphabetic", color="black")),
    px(xrr_df, dict(font=FONT, fontSize=20, align="right", baseline="alphabetic", color="black")),
    px(xsub_df, dict(font=FONT, fontSize=15, align="left", baseline="alphabetic", color="black")),
    px(yrr_df, dict(font=FONT, fontSize=20, align="right", baseline="alphabetic", angle=270, color="black")),
    px(ysub_df, dict(font=FONT, fontSize=15, align="left", baseline="alphabetic", angle=270, color="black")),
]

# legend: shaded key with the fitted line through it
LEGEND_LABELS = [ANCIENT, RECENT]
key_df = pd.DataFrame({"px": [749, 749], "px2": [768, 768], "py": [642, 673], "py2": [672, 702],
                       "grp": LEGEND_LABELS})
key_fill = {ANCIENT: "#EAC8CB", RECENT: "#C9DFE7"}
key_edge = {ANCIENT: "#E7A1A4", RECENT: "#7DBECB"}
legend_layers = []
for grp in GROUPS:
    kd = key_df[key_df.grp == grp]
    legend_layers.append(
        alt.Chart(kd).mark_rect(fill=key_fill[grp], stroke=key_edge[grp], strokeWidth=1.5)
        .encode(x=alt.X("px:Q", scale=None, axis=None), x2="px2:Q",
                y=alt.Y("py:Q", scale=None, axis=None), y2="py2:Q"))
    ld = kd.assign(pm=(kd.py + kd.py2) / 2)
    legend_layers.append(
        alt.Chart(ld).mark_rule(color=LINE_COLOR[grp], strokeWidth=1.5)
        .encode(x=alt.X("px:Q", scale=None, axis=None), x2="px2:Q",
                y=alt.Y("pm:Q", scale=None, axis=None)))
legend_text_df = pd.DataFrame({"px": [776, 776], "py": [668, 698], "label": LEGEND_LABELS})
legend_layers.append(px(legend_text_df, dict(font=FONT, fontSize=29, align="left",
                                             baseline="alphabetic", color="black")))

# arrow pointing into panel (a)
arrow_df = pd.DataFrame({"px": [0], "py": [352], "px2": [211.3], "py2": [233.2]})
head_df = pd.DataFrame({"px": [211.3], "py": [233.2]})
arrow_layers = [
    alt.Chart(arrow_df).mark_rule(color="#555555", strokeWidth=3.2)
    .encode(x=alt.X("px:Q", scale=None, axis=None), x2="px2:Q",
            y=alt.Y("py:Q", scale=None, axis=None), y2="py2:Q"),
    alt.Chart(head_df).mark_point(shape="triangle-up", filled=True, size=250, angle=60.7,
                                  color="#555555", opacity=1)
    .encode(x=alt.X("px:Q", scale=None, axis=None), y=alt.Y("py:Q", scale=None, axis=None)),
]

chart = (
    alt.layer(*[panel_chart(p) for p in PANELS], *text_layers, *legend_layers, *arrow_layers)
    .resolve_scale(x="independent", y="independent")
    .properties(width=W, height=H, padding=0, autosize=alt.AutoSizeParams(type="none"),
                background="white")
    .configure_view(stroke=None)
    .configure_axis(domainColor="#555555", tickColor="#555555", labelColor="#4D4D4D",
                    labelFont=FONT, labelFontSize=16.5, tickSize=4, domainWidth=1, tickWidth=1,
                    labelPadding=3)
)

chart.save("out.html", embed_options={"renderer": "svg", "actions": False})
